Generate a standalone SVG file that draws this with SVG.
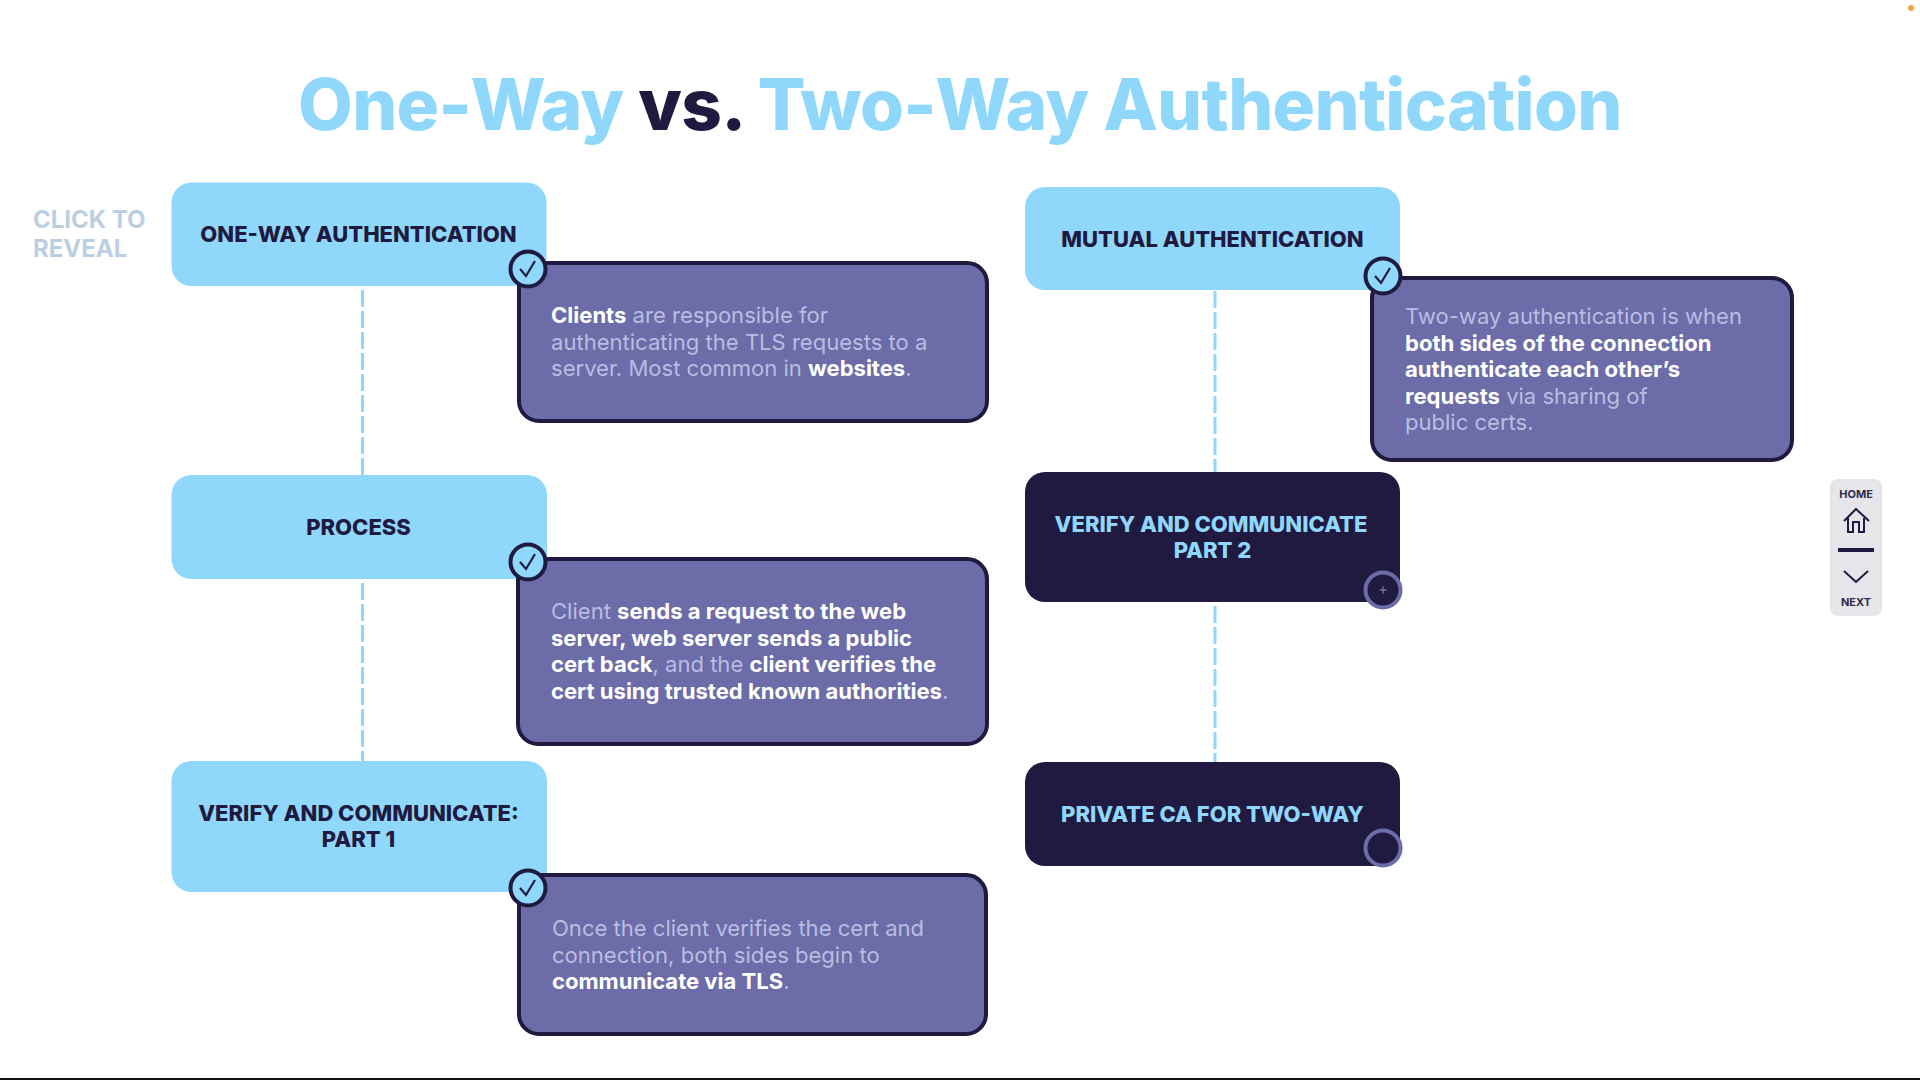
<svg xmlns="http://www.w3.org/2000/svg" width="1920" height="1080" viewBox="0 0 1920 1080">
<style>
text{font-family:Inter,"Liberation Sans",sans-serif}
.t{font-size:71px;font-weight:800;fill:#90d8fb;letter-spacing:-.7px}
.l{fill:#90d8fb}.d{fill:#201a41}
.h{font-size:22px;font-weight:800;text-anchor:middle}
.hd{fill:#201a41}.hl{fill:#90d8fb}
.p{fill:#6b6ca8;stroke:#201a41;stroke-width:4}
.b{font-size:22.050px;fill:#b9bde2}
.b tspan.s{font-weight:700;fill:#fff}
.c{stroke:#90d8fb;stroke-width:3;stroke-dasharray:17 4;fill:none}
.ck{fill:#90d8fb;stroke:#201a41;stroke-width:4}
.pl{fill:#201a41;stroke:#6b6ca8;stroke-width:4}
.m{fill:none;stroke:#201a41;stroke-width:2}
.n{font-size:11px;font-weight:700;fill:#2f2b4a;text-anchor:middle}
</style>
<defs>
<path id="tick" d="M-8 0L-2 7L7-8" fill="none" stroke="#201a41" stroke-width="2.200"/>
</defs>
<rect width="1920" height="1080" fill="#fff"/>
<rect x="0" y="1078" width="1920" height="2" fill="#111"/>
<circle cx="1911" cy="8" r="3" fill="#f2a33c"/>
<text id="title" class="t" x="298" y="130">One-Way <tspan fill="#201a41">vs.</tspan> Two-Way Authentication</text>
<text id="reveal" x="33" y="228" font-size="24" font-weight="700" fill="#bccfe2">CLICK TO<tspan x="33" dy="29">REVEAL</tspan></text>
<g id="connectors">
<path class="c" d="M362.500 290V475"/>
<path class="c" d="M362.500 583V762"/>
<path class="c" d="M1215 291V472"/>
<path class="c" d="M1215 606V762"/>
</g>
<g id="n1"><rect class="l" x="171.500" y="182.500" width="375" height="103.500" rx="20"/><text class="h hd" x="358.500" y="242">ONE-WAY AUTHENTICATION</text></g>
<g id="p1"><rect class="p" x="519" y="263" width="468" height="158" rx="20"/>
<text class="b" x="551" y="323"><tspan class="s">Clients</tspan> are responsible for<tspan x="551" dy="26.500">authenticating the TLS requests to a</tspan><tspan x="551" dy="26.500">server. Most common in </tspan><tspan class="s">websites</tspan>.</text>
<g transform="translate(528 269)"><circle class="ck" r="17.500"/><use href="#tick"/></g></g>
<g id="n2"><rect class="l" x="171.500" y="475" width="375.500" height="104" rx="20"/><text class="h hd" x="358.500" y="535">PROCESS</text></g>
<g id="p2"><rect class="p" x="518" y="559" width="469" height="185" rx="20"/>
<text class="b" x="551" y="619">Client <tspan class="s">sends a request to the web</tspan><tspan class="s" x="551" dy="26.500">server, web server sends a public</tspan><tspan class="s" x="551" dy="26.500">cert back</tspan>, and the <tspan class="s">client verifies the</tspan><tspan class="s" x="551" dy="26.500">cert using trusted known authorities</tspan>.</text>
<g transform="translate(528 562)"><circle class="ck" r="17.500"/><use href="#tick"/></g></g>
<g id="n3"><rect class="l" x="171.500" y="761" width="375.500" height="131" rx="20"/><text class="h hd" x="358.500" y="821">VERIFY AND COMMUNICATE:<tspan x="358.500" dy="26">PART 1</tspan></text></g>
<g id="p3"><rect class="p" x="519" y="875" width="467" height="159" rx="20"/>
<text class="b" x="552" y="936">Once the client verifies the cert and<tspan x="552" dy="26.500">connection, both sides begin to</tspan><tspan class="s" x="552" dy="26.500">communicate via TLS</tspan>.</text>
<g transform="translate(528 888)"><circle class="ck" r="17.500"/><use href="#tick"/></g></g>
<g id="n4"><rect class="l" x="1025" y="187" width="375" height="103" rx="20"/><text class="h hd" x="1212.500" y="247">MUTUAL AUTHENTICATION</text></g>
<g id="p4"><rect class="p" x="1372" y="278" width="420" height="182" rx="20"/>
<text class="b" x="1405" y="324">Two-way authentication is when<tspan class="s" x="1405" dy="26.500">both sides of the connection</tspan><tspan class="s" x="1405" dy="26.500">authenticate each other’s</tspan><tspan class="s" x="1405" dy="26.500">requests</tspan> via sharing of<tspan x="1405" dy="26.500">public certs.</tspan></text>
<g transform="translate(1383 276)"><circle class="ck" r="17.500"/><use href="#tick"/></g></g>
<g id="n5"><rect class="d" x="1025" y="472" width="375" height="130" rx="20"/><text class="h hl" x="1211" y="532">VERIFY AND COMMUNICATE<tspan x="1212.500" dy="26">PART 2</tspan></text>
<g transform="translate(1383 590)"><circle class="pl" r="17.500"/><path d="M-3.500 0H3.500M0-3.500V3.500" stroke="#6b6ca8" stroke-width="1.500"/></g></g>
<g id="n6"><rect class="d" x="1025" y="762" width="375" height="104" rx="20"/><text class="h hl" x="1212.500" y="822">PRIVATE CA FOR TWO-WAY</text>
<g transform="translate(1383 848)"><circle class="pl" r="17.500"/></g></g>
<g id="nav"><rect x="1830" y="479" width="52" height="137" rx="8" fill="#e6e6ea"/>
<text class="n" x="1856" y="498">HOME</text>
<path class="m" d="M1844 521L1856 509L1869 521M1848 518V532H1853V522H1859V532H1864V518" stroke-width="1.500"/>
<rect x="1838" y="548" width="36" height="4" fill="#201a41"/>
<path class="m" d="M1844 571L1856 582L1868 571" stroke-width="1.500"/>
<text class="n" x="1856" y="606">NEXT</text></g>
</svg>
